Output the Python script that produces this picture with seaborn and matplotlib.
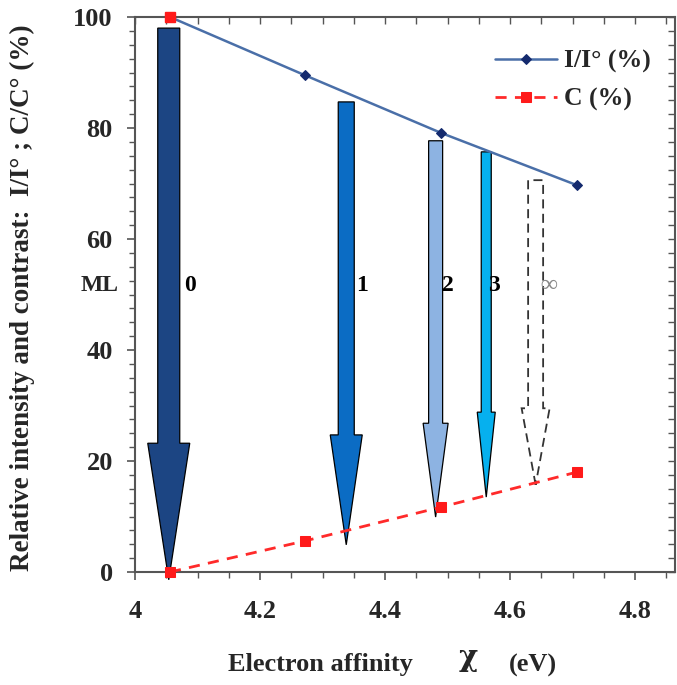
import numpy as np
import pandas as pd
import seaborn as sns
import matplotlib.pyplot as plt
from matplotlib.patches import FancyArrow
from matplotlib.ticker import MultipleLocator

# Dữ liệu
ea = [4.056, 4.272, 4.490, 4.707]          # Electron affinity (eV)
intensity = [100.0, 89.5, 79.1, 69.7]      # I/I° (%)
contrast = [0.0, 5.6, 11.7, 18.0]          # C (%)

# Mũi tên theo số lớp (ML)
ml_labels = ['0', '1', '2', '3', '∞']
arrow_x = [4.054, 4.338, 4.481, 4.562, 4.641]
arrow_top = [98.0, 84.7, 77.7, 75.7, 70.6]
arrow_tip = [-1.4, 4.9, 9.9, 13.5, 15.7]
head_start = [23.2, 24.7, 26.8, 28.8, 29.5]
label_x = [4.088, 4.363, 4.501, 4.574, 4.662]

x_ticks = [4, 4.2, 4.4, 4.6, 4.8]
x_ticklabels = ['4', '4.2', '4.4', '4.6', '4.8']
y_ticks = [0, 20, 40, 60, 80, 100]

df = pd.DataFrame({'ea': ea, 'I': intensity, 'C': contrast})

sns.set_theme(style='ticks')
plt.rcParams['font.family'] = ['Liberation Serif', 'DejaVu Serif']
plt.rcParams['font.weight'] = 'bold'

W, H = 677, 685
fig = plt.figure(figsize=(W / 100, H / 100), dpi=100)
ax = fig.add_axes([135 / W, 1 - 572 / H, 540 / W, 555 / H])

# Mũi tên
shaft_w = [0.0352, 0.0256, 0.0224, 0.016, 0.024]
head_w = [0.0672, 0.0512, 0.040, 0.0288, 0.0448]
colors = ['#1c4583', '#0b6cc4', '#8db3e2', '#06b0ee', 'white']
for i in range(len(ml_labels)):
    length = arrow_top[i] - arrow_tip[i]
    dashed = ml_labels[i] == '∞'
    arr = FancyArrow(arrow_x[i], arrow_top[i], 0, -length,
                     width=shaft_w[i], head_width=head_w[i],
                     head_length=head_start[i] - arrow_tip[i],
                     length_includes_head=True,
                     facecolor=colors[i],
                     edgecolor='#333333' if dashed else 'black',
                     linewidth=1.3 if dashed else 0.9,
                     linestyle=(0, (5, 3)) if dashed else '-',
                     zorder=2, clip_on=False)
    ax.add_patch(arr)
    ax.text(label_x[i], 51.7, ml_labels[i], fontsize=17, fontweight='bold',
            color='#888888' if dashed else 'black', ha='center', va='center')
ax.text(3.944, 51.7, 'ML', fontsize=17, fontweight='bold', ha='center',
        va='center', clip_on=False)

# Đường dữ liệu
sns.lineplot(data=df, x='ea', y='I', ax=ax, color='#4a6fa8', linewidth=1.8,
             marker='D', markersize=5, markerfacecolor='#142a6e',
             markeredgecolor='#142a6e', label='I/I° (%)', zorder=3)
sns.lineplot(data=df, x='ea', y='C', ax=ax, color='#ff2a2a', linewidth=2,
             linestyle=(0, (4, 3)), marker='s', markersize=7,
             markerfacecolor='#ff1a1a', markeredgecolor='#ff1a1a',
             label='C (%)', zorder=4, clip_on=False)
# điểm đỏ ở đỉnh (có trong hình gốc)
ax.plot(ea[:1], [100], marker='s', markersize=7, color='#ff1a1a',
        linestyle='none', clip_on=False, zorder=4)

ax.set_xlim(4, 4.864)
ax.set_ylim(0, 100)
ax.set_xticks(x_ticks)
ax.set_xticklabels(x_ticklabels)
ax.set_yticks(y_ticks)
ax.xaxis.set_minor_locator(MultipleLocator(0.05))
ax.yaxis.set_minor_locator(MultipleLocator(2.5))
ax.tick_params(axis='both', which='major', direction='out', length=6,
               width=1.2, color='#555555', labelsize=19, pad=10)
ax.tick_params(axis='both', which='minor', direction='out', length=4,
               width=1.0, color='#555555')
ax.tick_params(axis='x', pad=14)
for lab in ax.get_xticklabels() + ax.get_yticklabels():
    lab.set_fontweight('bold')

# trục phụ trên/phải, vạch chia hướng vào trong
sec_x = ax.secondary_xaxis('top')
sec_x.set_xticks(x_ticks)
sec_x.xaxis.set_minor_locator(MultipleLocator(0.05))
sec_x.tick_params(which='both', direction='in', labeltop=False, color='#555555',
                  length=5, width=1.0)
sec_x.spines['top'].set_color('#555555')
sec_y = ax.secondary_yaxis('right')
sec_y.set_yticks(y_ticks)
sec_y.yaxis.set_minor_locator(MultipleLocator(2.5))
sec_y.tick_params(which='both', direction='in', labelright=False, color='#555555',
                  length=5, width=1.0)
sec_y.spines['right'].set_color('#555555')

for s in ax.spines.values():
    s.set_color('#555555')
    s.set_linewidth(1.5)
    s.set_visible(True)

ax.set_xlabel('')
ax.set_ylabel('')

leg = ax.legend(loc='upper left', bbox_to_anchor=(495 / W, 1 - 50 / H),
                bbox_transform=fig.transFigure, frameon=False, borderpad=0,
                borderaxespad=0, handlelength=2.4, handletextpad=0.3,
                labelspacing=0.55, prop={'size': 18.5, 'weight': 'bold'})

fig.text(22 / W, 1 - 298 / H, 'Relative intensity and contrast:  I/I° ; C/C° (%)',
         rotation=90, ha='center', va='center', fontsize=19.5, fontweight='bold')
fig.text(320 / W, 1 - 665 / H, 'Electron affinity', ha='center', va='center',
         fontsize=19, fontweight='bold')
fig.text(468 / W, 1 - 657 / H, 'χ', ha='center', va='center',
         fontsize=21, fontweight='bold', family=['DejaVu Serif'])
fig.text(533 / W, 1 - 665 / H, '(eV)', ha='center', va='center',
         fontsize=19, fontweight='bold')

fig.savefig('out.png', dpi=100)
